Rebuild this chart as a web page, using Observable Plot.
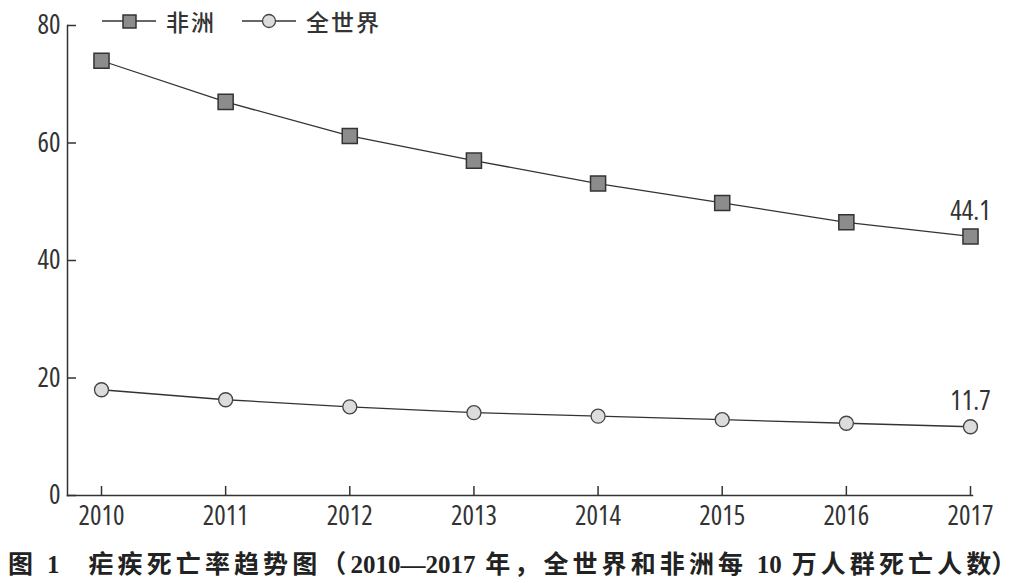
<!DOCTYPE html>
<html><head><meta charset="utf-8">
<script src="https://cdn.jsdelivr.net/npm/d3@7"></script>
<script src="https://cdn.jsdelivr.net/npm/@observablehq/plot@0.6"></script>
<style>
body{margin:0;background:#fff;width:1028px;height:586px;overflow:hidden;position:relative;}
#legend{position:absolute;left:100px;top:4px;display:flex;align-items:center;font-family:"Noto Sans CJK SC",sans-serif;font-size:23px;font-weight:500;color:#333;letter-spacing:2px;}
#legend .item{display:flex;align-items:center;margin-right:24px;}
#legend svg{margin-right:8px;}
#caption{font-family:"Noto Sans CJK SC",serif;font-size:25px;font-weight:bold;color:#222;padding-left:8px;letter-spacing:4.1px;white-space:nowrap;line-height:44px;}
#caption b{font-family:"Liberation Serif",serif;letter-spacing:0;}
#caption .end{letter-spacing:0;}
svg text{font-stretch:condensed;font-weight:500;}
</style></head><body>
<div id="chart"></div>
<div id="legend"></div>
<div id="caption"></div>
<script>
const years = [2010, 2011, 2012, 2013, 2014, 2015, 2016, 2017];
const africa = [74.0, 67.0, 61.2, 57.0, 53.1, 49.8, 46.5, 44.1];
const world = [18.0, 16.3, 15.1, 14.1, 13.5, 12.9, 12.3, 11.7];
const seriesNames = ["非洲", "全世界"];
const yTicks = [0, 20, 40, 60, 80];
const endLabels = ["44.1", "11.7"];

const dataA = years.map((y, i) => ({year: y, value: africa[i]}));
const dataW = years.map((y, i) => ({year: y, value: world[i]}));
const ends = [
  {year: years[years.length-1], value: africa[africa.length-1], label: endLabels[0]},
  {year: years[years.length-1], value: world[world.length-1], label: endLabels[1]}
];
const numFont = '"Open Sans","Liberation Sans Narrow",sans-serif';

const plot = Plot.plot({
  width: 1028, height: 540,
  marginLeft: 67, marginRight: 56, marginTop: 25, marginBottom: 45,
  style: {fontFamily: numFont, fontSize: "27px", color: "#333", background: "#fff"},
  x: {domain: [years[0], years[years.length-1]], insetLeft: 34, insetRight: 2, label: null},
  y: {domain: [0, 80], label: null},
  marks: [
    Plot.axisY(yTicks, {tickSize: 9, text: null, dx: 9, stroke: "#333", strokeWidth: 1.5, label: null}),
    Plot.axisY(yTicks, {tickSize: 0, tickPadding: 7, label: null, fill: "#333", fontSize: 27}),
    Plot.axisX(years, {tickSize: 9, text: null, dy: -9, stroke: "#333", strokeWidth: 1.5, label: null}),
    Plot.axisX(years, {tickSize: 0, tickPadding: 10, label: null, tickFormat: d => String(d), fill: "#333", fontSize: 27}),
    Plot.frame({anchor: "left", stroke: "#333", strokeWidth: 1.5}),
    Plot.frame({anchor: "bottom", stroke: "#333", strokeWidth: 1.5}),
    Plot.line(dataA, {x: "year", y: "value", stroke: "#333", strokeWidth: 1.3}),
    Plot.line(dataW, {x: "year", y: "value", stroke: "#333", strokeWidth: 1.3}),
    Plot.dot(dataA, {x: "year", y: "value", symbol: "square", r: 8.5, fill: "#8c8c8c", stroke: "#333", strokeWidth: 1.5}),
    Plot.dot(dataW, {x: "year", y: "value", symbol: "circle", r: 7, fill: "#dcdcdc", stroke: "#444", strokeWidth: 1.3}),
    Plot.text(ends, {x: "year", y: "value", text: "label", dy: -25, fill: "#333", fontSize: 27})
  ]
});
document.getElementById("chart").appendChild(plot);

const legend = document.getElementById("legend");
legend.innerHTML =
  `<div class="item"><svg width="58" height="20"><line x1="2" y1="10" x2="56" y2="10" stroke="#333" stroke-width="1.3"/><rect x="23" y="4" width="13" height="13" fill="#8c8c8c" stroke="#333" stroke-width="1.5"/></svg><span>${seriesNames[0]}</span></div>` +
  `<div class="item"><svg width="58" height="20"><line x1="2" y1="10" x2="56" y2="10" stroke="#333" stroke-width="1.3"/><circle cx="29" cy="10" r="6.5" fill="#dcdcdc" stroke="#444" stroke-width="1.3"/></svg><span>${seriesNames[1]}</span></div>`;

document.getElementById("caption").innerHTML =
  '图 <b>1</b>　疟疾死亡率趋势图（<b>2010—2017</b> 年，全世界和非洲每 <b>10</b> 万人群死亡人<span class="end">数）</span>';
</script>
</body></html>
